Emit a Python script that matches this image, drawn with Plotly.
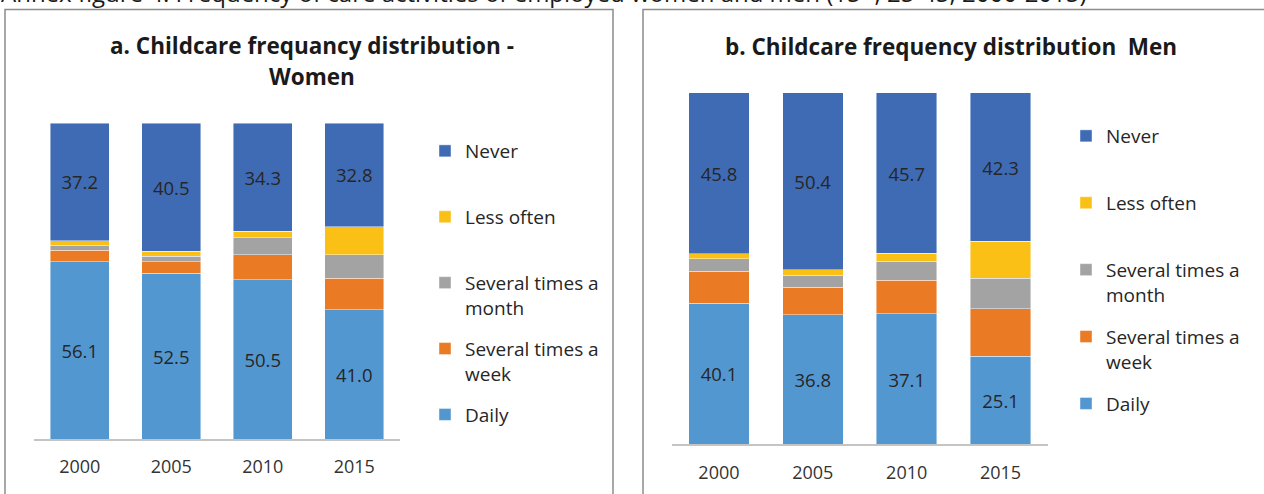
import plotly.graph_objects as go

# ---------------- data ----------------
years = ["2000", "2005", "2010", "2015"]
series_names = ["Daily", "Several times a week", "Several times a month", "Less often", "Never"]
legend_labels = ["Daily<br>\u00a0", "Several times a<br>week", "Several times a<br>month",
                 "Less often<br>\u00a0", "Never<br>\u00a0"]

women_daily = [56.1, 52.5, 50.5, 41.0]
women_weekly = [3.7, 3.7, 7.8, 9.9]
women_monthly = [1.6, 1.7, 5.4, 7.5]
women_less = [1.4, 1.6, 2.0, 8.8]
women_never = [37.2, 40.5, 34.3, 32.8]

men_daily = [40.1, 36.8, 37.1, 25.1]
men_weekly = [9.1, 7.8, 9.6, 13.4]
men_monthly = [3.6, 3.5, 5.4, 8.7]
men_less = [1.4, 1.5, 2.2, 10.5]
men_never = [45.8, 50.4, 45.7, 42.3]

labelled = [True, False, False, False, True]
colors = ["#5397D1", "#EA7A24", "#A3A3A3", "#FBC015", "#3F6BB4"]

W, H = 1264, 494
X = lambda p: p / W
Y = lambda p: 1 - p / H

FONT = "Open Sans"
TXT = "#262626"

fig = go.Figure()

panels = [
    ("x", "y", "legend", [women_daily, women_weekly, women_monthly, women_less, women_never], "w"),
    ("x2", "y2", "legend2", [men_daily, men_weekly, men_monthly, men_less, men_never], "m"),
]
for xa, ya, lg, vals, gp in panels:
    n = len(series_names)
    for i, (name, lab, vs, col, show) in enumerate(zip(series_names, legend_labels, vals, colors, labelled)):
        fig.add_trace(go.Bar(
            x=years, y=vs, name=lab, xaxis=xa, yaxis=ya, legend=lg,
            legendgroup=gp + name, legendrank=n - i,
            marker=dict(color=col, line=dict(color="rgba(255,255,255,0.55)", width=0.8)),
            text=[f"{v:.1f}" for v in vs] if show else None,
            textposition="inside" if show else "none",
            insidetextanchor="middle",
            textangle=0,
            constraintext="none",
            textfont=dict(family=FONT, size=18.5, color=TXT),
            hovertemplate=name + " %{x}: %{y:.1f}<extra></extra>",
        ))

axis_x = dict(type="category", showgrid=False, zeroline=False, showline=True,
              linecolor="#C4C4C4", linewidth=2, ticks="", range=[-0.5, 3.5],
              tickfont=dict(family=FONT, size=18, color="#333333"), fixedrange=True)
axis_y = dict(range=[0, 100], visible=False, showgrid=False, fixedrange=True)

legend_common = dict(traceorder="grouped", valign="top",
                     font=dict(family=FONT, size=19, color=TXT), bgcolor="rgba(0,0,0,0)",
                     xanchor="left", yanchor="top", itemclick=False, itemdoubleclick=False)

fig.update_layout(
    width=W, height=H,
    margin=dict(l=0, r=0, t=0, b=0),
    paper_bgcolor="white", plot_bgcolor="white",
    barmode="stack", bargap=0.355,
    showlegend=True,
    xaxis=dict(axis_x, domain=[X(34), X(400)], anchor="y", ticklabelstandoff=10),
    yaxis=dict(axis_y, domain=[Y(439.3), Y(123)], anchor="x"),
    xaxis2=dict(axis_x, domain=[X(672), X(1047.5)], anchor="y2", ticklabelstandoff=11),
    yaxis2=dict(axis_y, domain=[Y(444.3), Y(92.7)], anchor="x2"),
    legend=dict(legend_common, tracegroupgap=13.5, x=X(425), y=Y(132)),
    legend2=dict(legend_common, tracegroupgap=14.5, x=X(1066), y=Y(117)),
)

# panel frames
for x0, x1 in [(5, 613), (643, 1300)]:
    fig.add_shape(type="rect", xref="paper", yref="paper",
                  x0=X(x0), x1=X(x1), y0=Y(520), y1=Y(9.5),
                  line=dict(color="#8C8C8C", width=1.5), fillcolor="rgba(0,0,0,0)", layer="below")

# titles
title_font = dict(family=FONT, size=22.5, color="#1a1a1a")
fig.add_annotation(text="<b>a. Childcare frequancy distribution -</b>", x=X(312), y=Y(45),
                   xref="paper", yref="paper", showarrow=False, xanchor="center", yanchor="middle",
                   font=title_font)
fig.add_annotation(text="<b>Women</b>", x=X(312), y=Y(77),
                   xref="paper", yref="paper", showarrow=False, xanchor="center", yanchor="middle",
                   font=title_font)
fig.add_annotation(text="<b>b. Childcare frequency distribution  Men</b>", x=X(951), y=Y(47),
                   xref="paper", yref="paper", showarrow=False, xanchor="center", yanchor="middle",
                   font=title_font)

# figure caption (cut off at the top of the image, as in the source)
fig.add_annotation(text="Annex figure 4. Frequency of care activities of employed women and men (15+, 25-45, 2000-2015)",
                   x=X(-1), y=Y(-8), xref="paper", yref="paper", showarrow=False,
                   xanchor="left", yanchor="middle",
                   font=dict(family=FONT, size=24, color="#1a1a1a"))

fig.write_html("out.html", config={"displayModeBar": False},
               post_script="document.body.style.margin='0';document.body.style.overflow='hidden';")
